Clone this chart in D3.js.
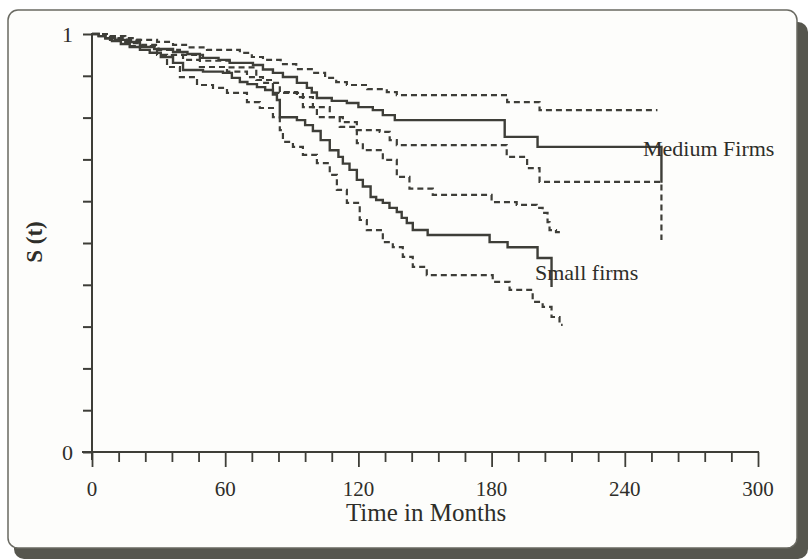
<!DOCTYPE html>
<html lang="en">
    <head>
        <title>Survival curves</title>
        <meta charset="UTF-8">
    </head>
    <style>
        body { margin: 0; background: #fff; }
        text { font-family: "Liberation Serif", "DejaVu Serif", serif; fill: #2e2e29; }
    </style>
    <script src="https://d3js.org/d3.v7.min.js"></script>
    <body>
        <script>
            // time (months), S(t)
            const mediumKM = [[0,1],[3,.995],[6,.990],[10.4,.986],[15,.981],[21.6,.969],[28,.964],[36.5,.957],[43,.952],[48.6,.943],[57,.938],[62,.931],[72.5,.926],[77,.915],[81.5,.907],[86,.897],[92.3,.883],[96.8,.871],[99,.860],[101.3,.847],[108,.840],[114.8,.835],[120,.825],[126.5,.818],[131,.806],[136.4,.794],[185.9,.754],[200.7,.730],[256.5,.644]]
            const mediumUpper = [[0,1],[6,.995],[12,.990],[20,.986],[29.3,.981],[36.5,.974],[44,.968],[51.8,.962],[66.6,.955],[72,.945],[77,.938],[85,.928],[92,.916],[99.5,.907],[105,.895],[110,.885],[114.8,.878],[124,.868],[132.8,.861],[137.3,.854],[187,.837],[201.6,.818],[254.7,.818]]
            const mediumLower = [[0,1],[6,.993],[12,.986],[17,.978],[22,.971],[28,.962],[36,.950],[41,.938],[48.6,.921],[60.8,.910],[69.8,.897],[77,.883],[84.6,.861],[92.3,.849],[99.5,.825],[107.1,.801],[113,.789],[119.3,.770],[129.6,.766],[134.1,.746],[137.3,.734],[186.8,.706],[196,.679],[201.6,.646],[256.5,.507]]
            const smallKM = [[0,1],[3,.995],[6,.990],[9,.983],[13,.976],[17,.969],[21.6,.962],[26,.955],[31,.945],[36.5,.931],[41,.914],[50,.910],[59,.907],[63,.895],[66.6,.885],[70,.880],[74.3,.873],[78,.866],[81.5,.855],[83.3,.842],[84.6,.801],[92.3,.794],[96,.782],[99.5,.768],[103,.746],[107.1,.722],[111,.706],[113,.690],[116,.675],[119.3,.651],[122,.635],[125.5,.610],[128,.603],[131,.596],[134,.584],[137.3,.574],[139.5,.560],[141.8,.548],[144.5,.531],[151.2,.519],[179.1,.502],[187.2,.490],[200.7,.464],[207,.395]]
            const smallUpper = [[0,1],[8,.995],[15,.986],[21.6,.974],[30,.962],[39.6,.950],[50,.936],[62,.920],[74,.890],[81.5,.859],[95,.825],[101.3,.801],[111.6,.778],[119.3,.739],[122,.722],[131,.699],[137.3,.658],[143,.630],[153.5,.615],[180,.598],[191.3,.591],[200.3,.584],[203,.572],[205.2,.550],[206.1,.531],[209,.526],[211.5,.526]]
            const smallLower = [[0,1],[8.1,.986],[17.1,.971],[29.3,.950],[33.8,.921],[39.6,.897],[47.3,.878],[54.5,.871],[60.8,.859],[69.8,.837],[75.6,.823],[81.5,.801],[84.6,.770],[86,.742],[90.5,.730],[95,.711],[101.3,.691],[107.1,.663],[110.3,.627],[114.8,.596],[120.6,.555],[123.8,.531],[131,.502],[135.5,.490],[140,.467],[144.5,.443],[150.8,.423],[180.5,.407],[188.1,.388],[198.5,.359],[203,.347],[207,.323],[210.6,.304],[212,.304]]

            const xTicks = [0, 60, 120, 180, 240, 300]
            const yTicks = [0, 1]

            const width = 808
            const height = 559
            const ink = "#3e3e38"

            var svg = d3.select("body")
                .append("svg")
                .attr("width", width)
                .attr("height", height)

            // card with shadow
            svg.append("rect")
                .attr("x", 14).attr("y", 22)
                .attr("width", 794).attr("height", 537)
                .attr("rx", 10)
                .attr("fill", "#56564e")
            svg.append("rect")
                .attr("x", 8).attr("y", 10)
                .attr("width", 789).attr("height", 538)
                .attr("rx", 10)
                .attr("fill", "#fdfdfb")
                .attr("stroke", "#6a6a62")
                .attr("stroke-width", 1.5)

            var x = d3.scaleLinear().domain([0, 300]).range([92, 758])
            var y = d3.scaleLinear().domain([0, 1]).range([452, 34])

            // y axis: ticks every 0.1, labels only at 0 and 1
            var yAxis = svg.append("g")
                .attr("transform", "translate(92,0)")
                .call(d3.axisLeft(y).tickValues(d3.range(0, 1.001, 0.1)).tickSize(9).tickFormat(""))
            yAxis.select(".domain").remove()
            yAxis.selectAll("line").attr("stroke", ink).attr("stroke-width", 2)
            svg.append("line")
                .attr("x1", 92).attr("x2", 92)
                .attr("y1", 33).attr("y2", 460)
                .attr("stroke", ink).attr("stroke-width", 2)

            svg.selectAll(".ylab")
                .data(yTicks)
                .enter()
                .append("text")
                .attr("class", "ylab")
                .attr("x", 73)
                .attr("y", function (d) { return y(d) + 8 })
                .attr("text-anchor", "end")
                .style("font-size", "22px")
                .text(function (d) { return d })

            // x axis: minor ticks every 12 months, longer at labels
            var xAxis = svg.append("g")
                .attr("transform", "translate(0,452)")
                .call(d3.axisBottom(x).tickValues(d3.range(0, 301, 12)).tickSize(10).tickFormat(""))
            xAxis.select(".domain").remove()
            xAxis.selectAll("line").attr("stroke", ink).attr("stroke-width", 1.8)
            xAxis.selectAll(".tick")
                .filter(function (d) { return d % 60 === 0 })
                .select("line").attr("y2", 15)
            svg.append("line")
                .attr("x1", 82).attr("x2", 759)
                .attr("y1", 452).attr("y2", 452)
                .attr("stroke", ink).attr("stroke-width", 2)

            svg.selectAll(".xlab")
                .data(xTicks)
                .enter()
                .append("text")
                .attr("class", "xlab")
                .attr("x", function (d) { return x(d) })
                .attr("y", 496)
                .attr("text-anchor", "middle")
                .style("font-size", "21px")
                .text(function (d) { return d })

            svg.append("text")
                .attr("x", 426).attr("y", 521)
                .attr("text-anchor", "middle")
                .style("font-size", "25px")
                .text("Time in Months")

            svg.append("text")
                .attr("transform", "translate(42,242) rotate(-90)")
                .attr("text-anchor", "middle")
                .style("font-size", "23px")
                .style("font-weight", "bold")
                .text("S (t)")

            // step curves
            var line = d3.line()
                .x(function (d) { return x(d[0]) })
                .y(function (d) { return y(d[1]) })
                .curve(d3.curveStepAfter)

            var series = [
                { data: mediumUpper, dash: true },
                { data: mediumLower, dash: true },
                { data: smallUpper, dash: true },
                { data: smallLower, dash: true },
                { data: mediumKM, dash: false },
                { data: smallKM, dash: false }
            ]

            svg.selectAll(".curve")
                .data(series)
                .enter()
                .append("path")
                .attr("class", "curve")
                .attr("d", function (d) { return line(d.data) })
                .attr("fill", "none")
                .attr("stroke", ink)
                .attr("stroke-width", function (d) { return d.dash ? 2.2 : 2.4 })
                .attr("stroke-dasharray", function (d) { return d.dash ? "6,4" : null })

            svg.append("text")
                .attr("x", 643).attr("y", 156)
                .style("font-size", "22px")
                .text("Medium Firms")

            svg.append("text")
                .attr("x", 535).attr("y", 280)
                .style("font-size", "22px")
                .text("Small firms")
        </script>
    </body>
</html>
